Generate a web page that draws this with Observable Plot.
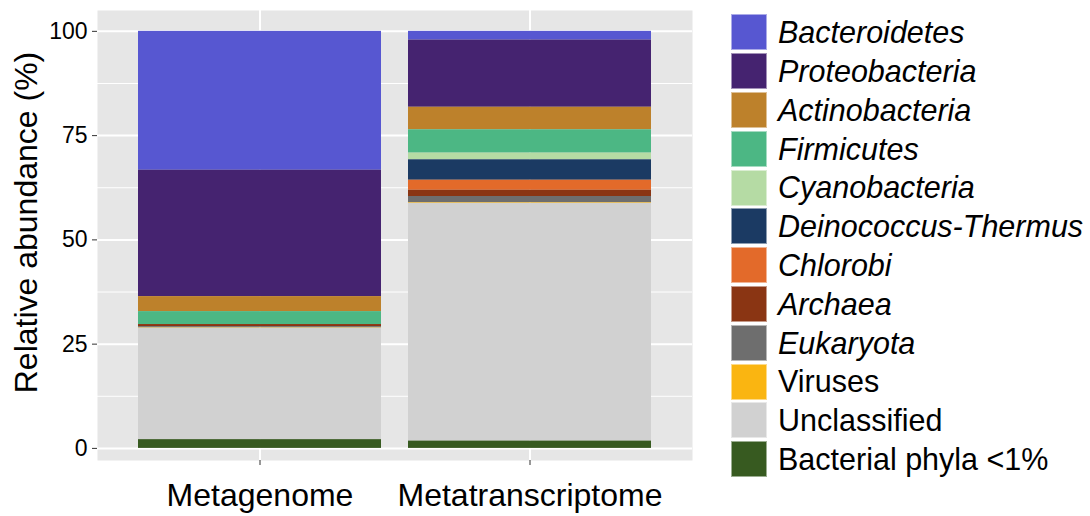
<!DOCTYPE html>
<html>
<head>
<meta charset="utf-8">
<script src="https://cdn.jsdelivr.net/npm/d3@7"></script>
<script src="https://cdn.jsdelivr.net/npm/@observablehq/plot@0.6"></script>
<style>
  html, body { margin: 0; padding: 0; background: white; }
  #wrap { position: relative; width: 1090px; height: 516px; overflow: hidden; font-family: "Liberation Sans", Arial, Helvetica, sans-serif; }
  #legend { position: absolute; left: 731px; top: 13px; }
  .row { display: flex; align-items: center; height: 38.8px; }
  .sw { width: 36px; height: 36px; box-sizing: border-box; border: 1px solid rgba(255,255,255,0.5); margin-right: 11px; }
  .lab { font-size: 30.5px; color: #000; line-height: 1; white-space: nowrap; }
</style>
</head>
<body>
<div id="wrap"><div id="chart"></div><div id="legend"></div></div>
<script>
// ---- data ----
const samples = ["Metagenome", "Metatranscriptome"];
// legend order (top to bottom); stacked from the bottom in reverse order
const phyla = ["Bacteroidetes", "Proteobacteria", "Actinobacteria", "Firmicutes", "Cyanobacteria",
  "Deinococcus-Thermus", "Chlorobi", "Archaea", "Eukaryota", "Viruses", "Unclassified", "Bacterial phyla <1%"];
const italicNames = [true, true, true, true, true, true, true, true, true, false, false, false];
const phylaColors = ["#5757D1", "#452370", "#BD812B", "#4CB784", "#B5DBA4", "#1B3A63",
  "#E36A2A", "#8A3513", "#6E6E6E", "#FAB511", "#D1D1D1", "#375A20"];
const metagenome = [33.3, 30.3, 3.6, 3.1, 0, 0, 0, 0.5, 0.3, 0.1, 26.7, 2.1];
const metatranscriptome = [2.1, 16.1, 5.4, 5.6, 1.6, 4.9, 2.4, 1.5, 1.5, 0.15, 57.0, 1.75];
const yTicks = [0, 25, 50, 75, 100];
const yMinor = [12.5, 37.5, 62.5, 87.5];
const yTitle = "Relative abundance (%)";

const table = [];
phyla.forEach((p, i) => {
  table.push({sample: samples[0], phylum: p, value: metagenome[i]});
  table.push({sample: samples[1], phylum: p, value: metatranscriptome[i]});
});
const stackOrder = phyla.slice().reverse();

const chart = Plot.plot({
  width: 710,
  height: 516,
  marginLeft: 97,
  marginRight: 18,
  marginTop: 10,
  marginBottom: 56,
  style: {fontFamily: '"Liberation Sans", Arial, Helvetica, sans-serif', background: "white", color: "black"},
  x: {domain: samples, paddingInner: 0.1, paddingOuter: 0.15, axis: null},
  y: {domain: [-2.9, 105], axis: null},
  color: {domain: phyla, range: phylaColors},
  marks: [
    Plot.frame({fill: "#E6E6E6", stroke: "none"}),
    Plot.gridY(yMinor, {stroke: "white", strokeOpacity: 1, strokeWidth: 1}),
    Plot.gridY(yTicks, {stroke: "white", strokeOpacity: 1, strokeWidth: 2}),
    Plot.gridX(samples, {stroke: "white", strokeOpacity: 1, strokeWidth: 2}),
    Plot.barY(table, Plot.stackY({order: stackOrder}, {x: "sample", y: "value", fill: "phylum"})),
    Plot.axisY(yTicks, {tickSize: 5, tickPadding: 5, fontSize: 23, stroke: "#333", fill: "black", label: null}),
    Plot.axisX({tickSize: 5, tickPadding: 18, fontSize: 32, stroke: "#333", fill: "black", label: null}),
    Plot.text([yTitle], {frameAnchor: "left", textAnchor: "middle", rotate: -90, dx: -71, dy: -13, fontSize: 32, fill: "black"})
  ]
});
document.getElementById("chart").appendChild(chart);

const legend = document.getElementById("legend");
phyla.forEach((p, i) => {
  const row = document.createElement("div");
  row.className = "row";
  const sw = document.createElement("div");
  sw.className = "sw";
  sw.style.background = phylaColors[i];
  const lab = document.createElement("span");
  lab.className = "lab";
  lab.textContent = p;
  if (italicNames[i]) lab.style.fontStyle = "italic";
  row.appendChild(sw);
  row.appendChild(lab);
  legend.appendChild(row);
});
</script>
</body>
</html>
